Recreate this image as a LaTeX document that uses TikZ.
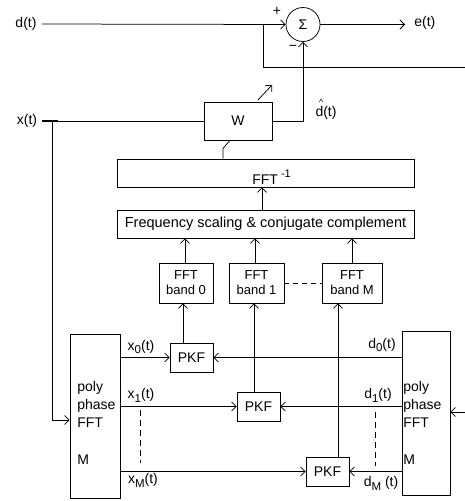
\documentclass[tikz,border=0pt]{standalone}
\usepackage{fontspec}
\setmainfont{Liberation Sans}
\usetikzlibrary{arrows.meta}
\newcommand\sbx[1]{\raisebox{-0.28em}{\fontsize{11.5}{12}\selectfont #1}}
\begin{document}
\begin{tikzpicture}[x=1pt,y=-1pt,line width=0.75pt,
  every node/.style={font=\fontsize{14}{17}\selectfont},
  lbl/.style={inner sep=0pt},
  box/.style={draw,rectangle,inner sep=0pt},
  arr/.style={-{Straight Barb[length=4.5pt,width=9pt]}},
  smallbox/.style={box,align=center,font=\fontsize{13}{15}\selectfont},
  polytxt/.style={inner sep=0pt,anchor=north west,align=left,font=\fontsize{14}{18.3}\selectfont}]
\useasboundingbox (0,0) rectangle (465,501);
% summation
\node[lbl] (dlab) at (26,24) {d(t)};
\node[draw,circle,minimum size=34pt,inner sep=0pt] (sig) at (303,24.5) {Σ};
\node[lbl,anchor=west] (elab) at (414,23) {e(t)};
\coordinate (eend) at (405,24.5);
\node[lbl] (plus) at (277,11) {+};
\node[lbl] (minus) at (293,48) {−};
\draw[arr] ([xshift=5pt]dlab.east) -- (sig.west);
\draw[arr] (sig.east) -- (eend);
\coordinate (br) at (263,24.5);
\coordinate (fbk) at (465,67);
\draw (br) |- (fbk);
% W filter
\node[box,minimum width=68pt,minimum height=38pt] (W) at (238,121) {W};
\node[lbl] (xlab) at (27,121) {x(t)};
\coordinate (xt0) at (42,121);
\coordinate (xt1) at (58,121);
\coordinate (xj) at (52,121);
\draw[line width=2pt] (xt0) -- (xt1);
\draw (xt1) -- (W.west);
\draw[arr] (W.east) -| (sig.south);
\node[lbl] (dhat) at (326,113) {\rlap{\raisebox{11.5pt}[0pt][0pt]{\hspace{3.5pt}\fontsize{9}{9}\selectfont\textasciicircum}}d(t)};
\coordinate (aw1) at (258,100);
\coordinate (aw2) at (272,85);
\draw[arr] (aw1) -- (aw2);
% IFFT and frequency scaling
\node[box,minimum width=297pt,minimum height=28pt] (ifft) at (265.5,173) {};
\node[lbl,anchor=base west] (iffttxt) at (252,184) {FFT\hspace{3pt}\raisebox{6.5pt}{\fontsize{11}{11}\selectfont -1}};
\draw ([xshift=-8pt]W.south) -- ++(-7,8) -- ([xshift=-42.5pt]ifft.north);
\node[box,minimum width=297pt,minimum height=28pt,font=\fontsize{14.5}{17}\selectfont] (freq) at (265.5,224) {Frequency scaling \& conjugate complement};
\draw[arr] ([xshift=-3.5pt]freq.north) -- ([xshift=-3.5pt]ifft.south);
% FFT bands
\node[smallbox,minimum width=54pt,minimum height=40pt] (b0) at (186,283) {FFT\\band 0};
\node[smallbox,minimum width=55pt,minimum height=40pt] (b1) at (256.5,283) {FFT\\band 1};
\node[smallbox,minimum width=60pt,minimum height=40pt] (bM) at (352,283) {FFT\\band M};
\draw[arr] ([xshift=-1pt]b0.north) -- ([xshift=-1pt]b0.north |- freq.south);
\draw[arr] ([xshift=-1.5pt]b1.north) -- ([xshift=-1.5pt]b1.north |- freq.south);
\draw[arr] (bM.north) -- (bM.north |- freq.south);
\draw[dashed,dash pattern=on 5pt off 4pt] (b1.east) -- (bM.west);
% PKF blocks
\node[box,minimum width=43pt,minimum height=29pt] (p0) at (191.5,357.5) {PKF};
\node[box,minimum width=43pt,minimum height=29pt] (p1) at (258.5,406.5) {PKF};
\node[box,minimum width=43pt,minimum height=29pt] (pM) at (327.5,471.5) {PKF};
\draw[arr] ([xshift=-8.5pt]p0.north) -- ([xshift=-8.5pt]p0.north |- b0.south);
\draw[arr] ([xshift=-4.5pt]p1.north) -- ([xshift=-4.5pt]p1.north |- b1.south);
\draw[arr] ([xshift=10.5pt]pM.north) -- ([xshift=10.5pt]pM.north |- bM.south);
% polyphase FFT blocks
\node[box,minimum width=50pt,minimum height=164pt] (lp) at (95,416) {};
\node[box,minimum width=48pt,minimum height=164pt] (rp) at (426,413) {};
\node[polytxt] (lpt) at (77,380.5) {poly\\phase\\FFT\\[18.3pt]M};
\node[polytxt] (rpt) at (403,380.5) {poly\\phase\\FFT\\[18.3pt]M};
\draw[arr] (xj) |- ([yshift=-4pt]lp.west);
\coordinate (rin) at (465,412);
\draw[arr] (rin) -- (rin -| rp.east);
% band signals
\draw[arr] (lp.east |- p0) -- (p0.west);
\draw[arr] (rp.west |- p0) -- (p0.east);
\draw[arr] (lp.east |- p1) -- (p1.west);
\draw[arr] (rp.west |- p1) -- (p1.east);
\draw[arr] (lp.east |- pM) -- (pM.west);
\draw[arr] (rp.west |- pM) -- (pM.east);
\node[lbl] (x0l) at (141,347) {x\sbx{0}(t)};
\node[lbl] (d0l) at (382,345) {d\sbx{0}(t)};
\node[lbl] (x1l) at (141,395) {x\sbx{1}(t)};
\node[lbl] (d1l) at (378,395) {d\sbx{1}(t)};
\node[lbl] (xMl) at (143,480) {x\sbx{M}(t)};
\node[lbl] (dMl) at (381,483) {d\sbx{M} (t)};
\coordinate (dl1) at (140,410);
\coordinate (dl2) at (140,463);
\coordinate (dr1) at (375,412);
\coordinate (dr2) at (375,466);
\draw[dash pattern=on 6pt off 4pt] (dl1) -- (dl2);
\draw[dash pattern=on 6pt off 4pt] (dr1) -- (dr2);
\end{tikzpicture}
\end{document}
